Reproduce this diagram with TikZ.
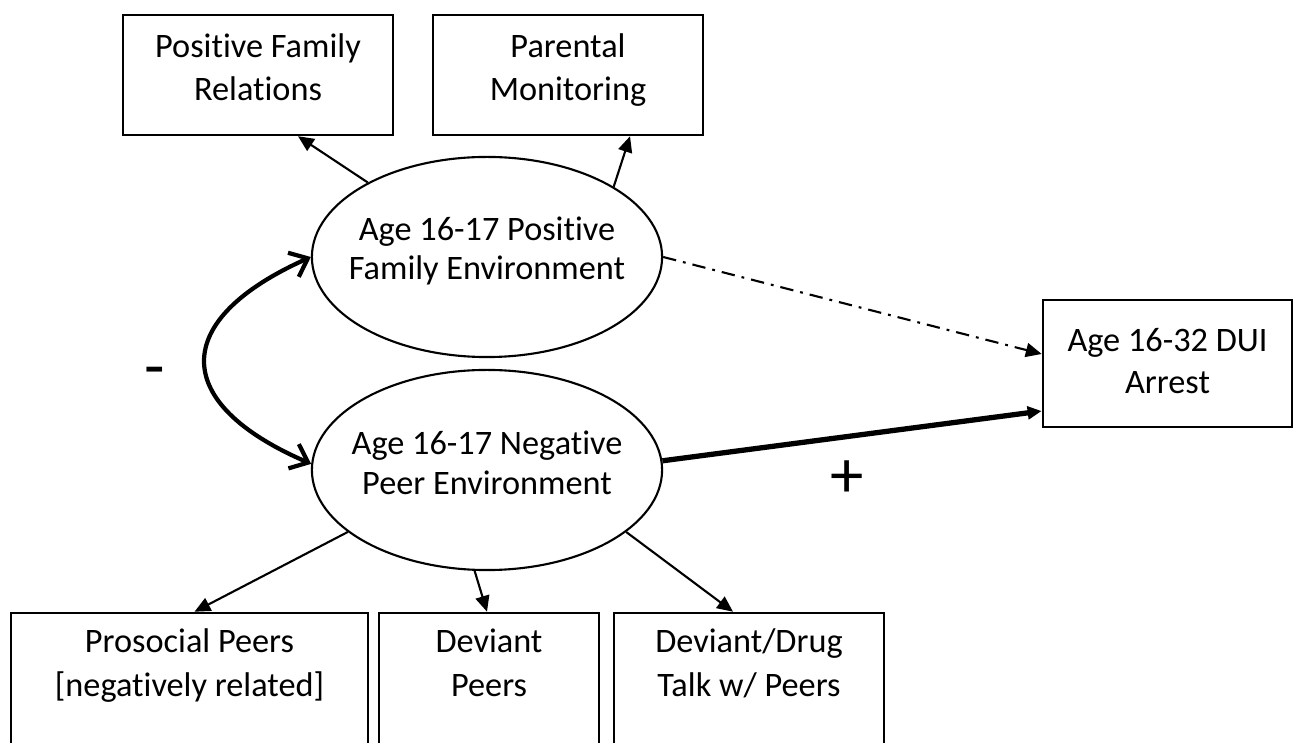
\documentclass[tikz,border=0pt]{standalone}
\usepackage{fontspec}
\setmainfont{Carlito}[RawFeature={-liga}]
\usetikzlibrary{shapes.geometric,arrows.meta}
\newcommand\tx[3]{\makebox[0pt]{\raisebox{#1}[0pt][0pt]{\fontsize{9.75pt}{#2}\selectfont\begin{tabular}[t]{@{}c@{}}#3\end{tabular}}}}
\begin{document}
\begin{tikzpicture}[x=0.01cm,y=-0.01cm,
  box/.style={draw, line width=0.7pt, rectangle, inner sep=0pt},
  ell/.style={draw, ellipse, line width=0.6pt, minimum width=3.5cm, minimum height=2cm, inner sep=0pt},
  arr/.style={line width=0.6pt, -{Triangle[length=4.5pt,width=4pt]}},
  dashdot/.style={line width=0.6pt, dash pattern=on 3.8pt off 2pt on 0.8pt off 2pt, -{Triangle[length=4.5pt,width=4pt]}},
  thick arr/.style={line width=1.5pt, -{Triangle[length=4pt,width=3.6pt]}},
  corr/.style={line width=1.2pt, {Straight Barb[length=4.5pt,width=7.5pt]}-{Straight Barb[length=4.5pt,width=7.5pt]}},
  sign/.style={font=\fontsize{19pt}{22pt}\selectfont, inner sep=0pt, anchor=base}]
\useasboundingbox (0,0) rectangle (1293,743);
\clip (0,0) rectangle (1293,743);
\fill[white] (0,0) rectangle (1293,743);
% top boxes
\node[box, minimum width=2.7cm, minimum height=1.2cm] (pfr) at (258,75) {\tx{5.1pt}{12.3pt}{Positive Family\\Relations}};
\node[box, minimum width=2.7cm, minimum height=1.2cm] (pm) at (568,75) {\tx{5.1pt}{12.3pt}{Parental\\Monitoring}};
% latent ellipses
\node[ell] (pfe) at (487,257) {\tx{4.8pt}{11.3pt}{Age 16-17 Positive\\Family Environment}};
\node[ell] (pne) at (487,470) {\tx{4.5pt}{11.4pt}{Age 16-17 Negative\\Peer Environment}};
% outcome
\node[box, minimum width=2.49cm, minimum height=1.27cm] (dui) at (1167.5,363.5) {\tx{3.3pt}{11.8pt}{Age 16-32 DUI\\Arrest}};
% bottom boxes
\node[box, minimum width=3.57cm, minimum height=1.57cm] (pro) at (189.5,691.5) {\tx{11.2pt}{12.5pt}{Prosocial Peers\\{[negatively related]}}};
\node[box, minimum width=2.2cm, minimum height=1.57cm] (dev) at (489,691.5) {\tx{11.2pt}{12.5pt}{Deviant\\Peers}};
\node[box, minimum width=2.7cm, minimum height=1.57cm] (ddt) at (749,691.5) {\tx{11.2pt}{12.5pt}{Deviant/Drug\\Talk w/ Peers}};
% signs
\node[sign] (minus) at (155,389) {-};
\node[sign] (plus) at (847,498) {+};
% connectors
\draw[arr] (pfe.148.8) -- ([xshift=0.4cm]pfr.south);
\draw[arr] (pfe.29.4) -- ([xshift=0.62cm]pm.south);
\draw[arr] (pne.204) -- ([xshift=0.05cm]pro.north);
\draw[arr] (pne.263) -- ([xshift=-0.02cm]dev.north);
\draw[arr] (pne.336.5) -- ([xshift=-0.16cm]ddt.north);
\draw[dashdot] (pfe.east) -- ([yshift=0.095cm]dui.west);
\draw[thick arr] (pne.3) -- ([yshift=-0.475cm]dui.west);
\draw[corr] (pfe.west) .. controls (170,320) and (170,403) .. (pne.178);
\end{tikzpicture}
\end{document}
